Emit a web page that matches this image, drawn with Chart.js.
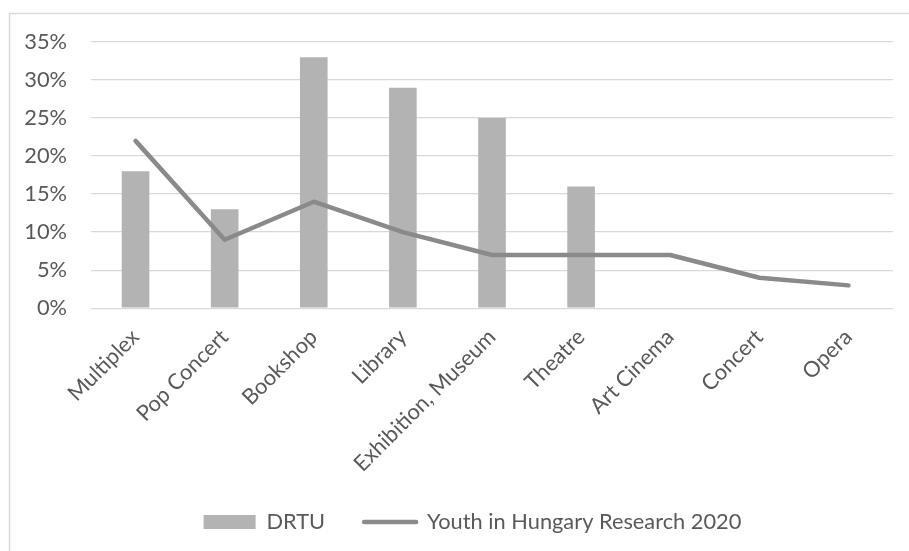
<!DOCTYPE html>
<html>
<head>
<meta charset="utf-8">
<script src="https://cdn.jsdelivr.net/npm/chart.js@4/dist/chart.umd.min.js"></script>
<style>
  html, body { margin: 0; padding: 0; background: #ffffff; }
  #wrap { width: 909px; height: 551px; position: relative; }
</style>
</head>
<body>
<div id="wrap"><canvas id="c" width="909" height="551"></canvas></div>
<script>
// ---- data ----
const categories = ["Multiplex", "Pop Concert", "Bookshop", "Library", "Exhibition, Museum", "Theatre", "Art Cinema", "Concert", "Opera"];
const drtuValues = [18, 13, 33, 29, 25, 16, null, null, null];
const youthValues = [22, 9, 14, 10, 7, 7, 7, 4, 3];
const seriesNames = ["DRTU", "Youth in Hungary Research 2020"];
const yTickMax = 35;
const yTickStep = 5;

// ---- style ----
const FAMILY = "Lato, 'Open Sans', 'Liberation Sans', sans-serif";
const mctx = document.createElement('canvas').getContext('2d');
mctx.font = "100px " + FAMILY;
const FS = Math.round(314 * 100 / mctx.measureText(seriesNames[1]).width * 10) / 10;
const TEXT = '#595959';
const GRID = '#d9d9d9';
const BAR = '#b3b3b3';
const LINE = '#8a8a8a';
const LEGEND_SHIFT = 21;

const borderPlugin = {
  id: 'outerBorder',
  afterLayout(chart) {
    if (chart.legend) {
      chart.legend.left += LEGEND_SHIFT;
      chart.legend.right += LEGEND_SHIFT;
    }
  },
  beforeDraw(chart) {
    const c = chart.ctx;
    c.save();
    c.fillStyle = '#ffffff';
    c.fillRect(0, 0, chart.width, chart.height);
    c.strokeStyle = GRID;
    c.lineWidth = 1.5;
    c.strokeRect(9.5, 13.5, 1200, 1200);
    c.restore();
  }
};

new Chart(document.getElementById('c'), {
  data: {
    labels: categories,
    datasets: [
      {
        type: 'bar',
        label: seriesNames[0],
        data: drtuValues,
        backgroundColor: BAR,
        borderWidth: 0,
        barPercentage: 0.31,
        categoryPercentage: 1,
        order: 1
      },
      {
        type: 'line',
        label: seriesNames[1],
        data: youthValues,
        borderColor: LINE,
        backgroundColor: LINE,
        borderWidth: 4.5,
        borderCapStyle: 'round',
        borderJoinStyle: 'round',
        pointRadius: 0,
        pointHoverRadius: 0,
        tension: 0,
        fill: false,
        order: 0
      }
    ]
  },
  options: {
    responsive: false,
    animation: false,
    devicePixelRatio: 1,
    layout: { padding: { left: 10, right: 16, top: 42, bottom: 8 } },
    scales: {
      x: {
        grid: { display: false, drawTicks: false },
        border: { display: false },
        ticks: {
          color: TEXT,
          font: { family: FAMILY, size: FS },
          minRotation: 45,
          maxRotation: 45,
          autoSkip: false,
          padding: 16
        },
        afterFit(scale) { scale.height = 164; }
      },
      y: {
        min: 0,
        max: yTickMax,
        grid: { color: GRID, lineWidth: 1.3, drawTicks: false },
        border: { display: false },
        ticks: {
          stepSize: yTickStep,
          color: TEXT,
          font: { family: FAMILY, size: FS },
          padding: 24,
          callback: v => v + '%'
        },
        afterFit(scale) { scale.width = 81; }
      }
    },
    plugins: {
      tooltip: { enabled: false },
      legend: {
        position: 'bottom',
        labels: {
          color: TEXT,
          font: { family: FAMILY, size: FS },
          usePointStyle: true,
          pointStyleWidth: 52,
          boxHeight: 14,
          padding: 39,
          generateLabels(chart) {
            const items = Chart.defaults.plugins.legend.labels.generateLabels(chart);
            items.sort((a, b) => a.datasetIndex - b.datasetIndex);
            items.forEach(it => {
              const ds = chart.data.datasets[it.datasetIndex];
              if (ds.type === 'line') {
                it.pointStyle = 'line';
                it.strokeStyle = LINE;
                it.lineWidth = 4.5;
                it.lineCap = 'round';
              } else {
                it.pointStyle = 'rect';
                it.fillStyle = BAR;
                it.lineWidth = 0;
              }
              it.fontColor = TEXT;
            });
            return items;
          }
        }
      }
    }
  },
  plugins: [borderPlugin]
});
</script>
</body>
</html>
